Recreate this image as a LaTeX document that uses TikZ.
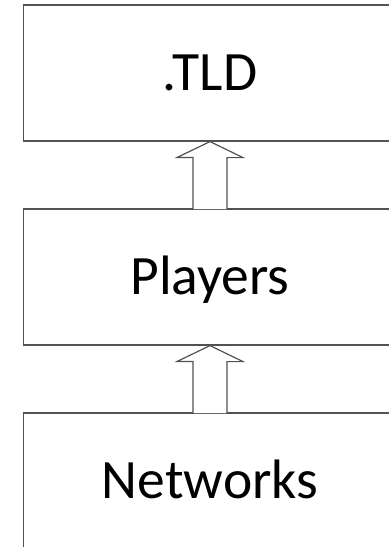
\documentclass[tikz,border=0pt]{standalone}
\usepackage{fontspec}
\setmainfont{Carlito}
\tikzset{
  layerbox/.style={draw=black!68,line width=0.85pt,rectangle,minimum width=9.325cm,minimum height=3.4cm,
    font=\fontsize{39.5}{46}\selectfont,text height=25pt,text depth=0pt},
  blockarrow/.style={draw=black!68,line width=0.85pt,fill=white,line join=miter}
}
\begin{document}
\begin{tikzpicture}
		\useasboundingbox (0,0) rectangle (9.725,-13.675);
		\clip (0,0) rectangle (9.725,-13.675);

		\node (tld)      [layerbox] at (5.25,-1.825) {.TLD};
		\node (players)  [layerbox] at (5.25,-6.925) {Players};
		\node (networks) [layerbox] at (5.25,-12.025) {Networks};

		% hollow arrows, open at the foot so they cut through the box edge
		\draw [blockarrow] ([xshift=-0.425cm,yshift=-0.5pt]players.north) -- ++(0,1.29) -- ++(-0.4,0)
			-- (tld.south) -- ++(0.825,-0.4) -- ++(-0.4,0) -- ([xshift=0.425cm,yshift=-0.5pt]players.north);
		\draw [blockarrow] ([xshift=-0.425cm,yshift=-0.5pt]networks.north) -- ++(0,1.29) -- ++(-0.4,0)
			-- (players.south) -- ++(0.825,-0.4) -- ++(-0.4,0) -- ([xshift=0.425cm,yshift=-0.5pt]networks.north);
	\end{tikzpicture}
\end{document}
